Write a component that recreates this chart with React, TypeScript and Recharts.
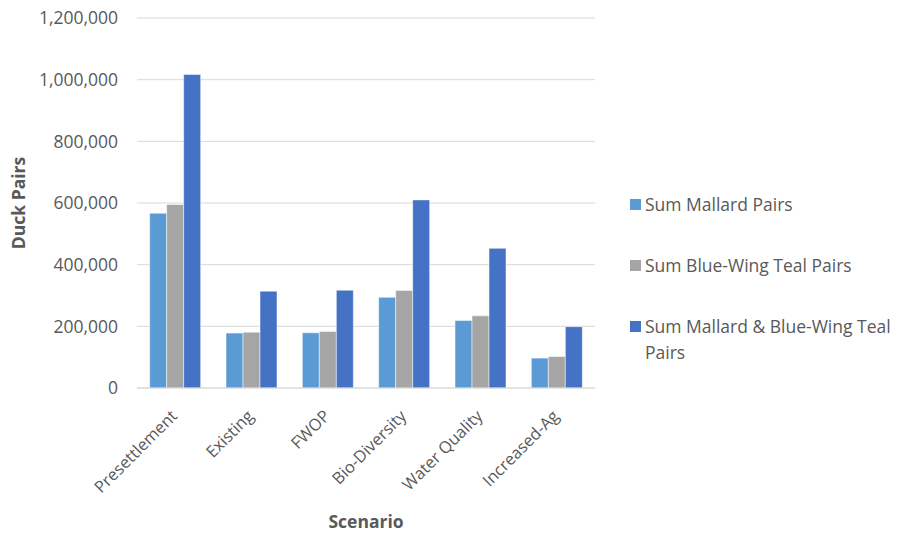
import React from 'react';
import { BarChart, Bar, XAxis, YAxis, CartesianGrid } from 'recharts';

const scenarios = ['Presettlement', 'Existing', 'FWOP', 'Bio-Diversity', 'Water Quality', 'Increased-Ag'];
const mallardPairs = [567000, 178000, 179000, 294000, 219000, 97000];
const tealPairs = [595000, 181000, 183000, 316000, 234000, 102000];
const totalPairs = [1017000, 314000, 317000, 610000, 453000, 199000];
const yTicks = [0, 200000, 400000, 600000, 800000, 1000000, 1200000];

const series = [
  { key: 'mallard', name: 'Sum Mallard Pairs', color: '#5B9BD5' },
  { key: 'teal', name: 'Sum Blue-Wing Teal Pairs', color: '#A5A5A5' },
  { key: 'total', name: 'Sum Mallard & Blue-Wing Teal Pairs', color: '#4472C4' },
];

const data = scenarios.map((name, i) => ({
  name,
  mallard: mallardPairs[i],
  teal: tealPairs[i],
  total: totalPairs[i],
}));

const FONT = '"Open Sans", sans-serif';
const TEXT = '#595959';

const fmt = (v: number) => v.toLocaleString('en-US');

// rotated category label, text end centred just past the tick
const SlantTick = (props: any) => {
  const { x, y, payload } = props;
  const ax = x - 1;
  const ay = y + 25;
  return (
    <text
      x={ax}
      y={ay}
      dy="0.35em"
      textAnchor="end"
      transform={`rotate(-45, ${ax}, ${ay})`}
      fill={TEXT}
      fontSize={16.5}
      fontFamily={FONT}
    >
      {payload.value}
    </text>
  );
};

// legend drawn as plain html so it doesn't eat into the plot area
const LegendBox = () => (
  <div
    style={{
      position: 'absolute',
      left: 630,
      top: 191,
      width: 265,
      fontFamily: FONT,
      fontSize: 17.5,
      color: TEXT,
    }}
  >
    {series.map((s) => (
      <div key={s.key} style={{ display: 'flex', alignItems: 'flex-start', height: 61, lineHeight: '26px' }}>
        <span
          style={{
            display: 'inline-block',
            width: 11,
            height: 11,
            background: s.color,
            marginTop: 8,
            marginRight: 4,
            flex: 'none',
          }}
        />
        <span style={{ width: 252 }}>{s.name}</span>
      </div>
    ))}
  </div>
);

export default function App() {
  return (
    <div style={{ position: 'absolute', left: 0, top: 0, width: 897, height: 535, background: '#fff' }}>
      <BarChart
        width={897}
        height={535}
        data={data}
        margin={{ top: 18, right: 302, bottom: 7, left: 0 }}
        barCategoryGap="16.6%"
        barGap={0}
      >
        <CartesianGrid vertical={false} stroke="#D9D9D9" strokeWidth={1} />
        <XAxis
          dataKey="name"
          height={140}
          interval={0}
          tickLine={false}
          tickSize={0}
          tickMargin={0}
          axisLine={{ stroke: '#D9D9D9' }}
          tick={<SlantTick />}
          label={{
            value: 'Scenario',
            position: 'insideBottom',
            offset: 0,
            fill: TEXT,
            fontSize: 17.5,
            fontWeight: 'bold',
            fontFamily: FONT,
          }}
        />
        <YAxis
          width={137}
          domain={[0, 1200000]}
          ticks={yTicks}
          tickFormatter={fmt}
          axisLine={false}
          tickLine={false}
          tickSize={0}
          tickMargin={19}
          tick={{ fill: TEXT, fontSize: 17.5, fontFamily: FONT }}
          label={{
            value: 'Duck Pairs',
            angle: -90,
            position: 'insideLeft',
            offset: 19,
            style: { textAnchor: 'middle' },
            fill: TEXT,
            fontSize: 17.5,
            fontWeight: 'bold',
            fontFamily: FONT,
          }}
        />
        {series.map((s) => (
          <Bar
            key={s.key}
            dataKey={s.key}
            name={s.name}
            fill={s.color}
            stroke="#fff"
            strokeWidth={0.5}
            isAnimationActive={false}
          />
        ))}
      </BarChart>
      <LegendBox />
    </div>
  );
}
